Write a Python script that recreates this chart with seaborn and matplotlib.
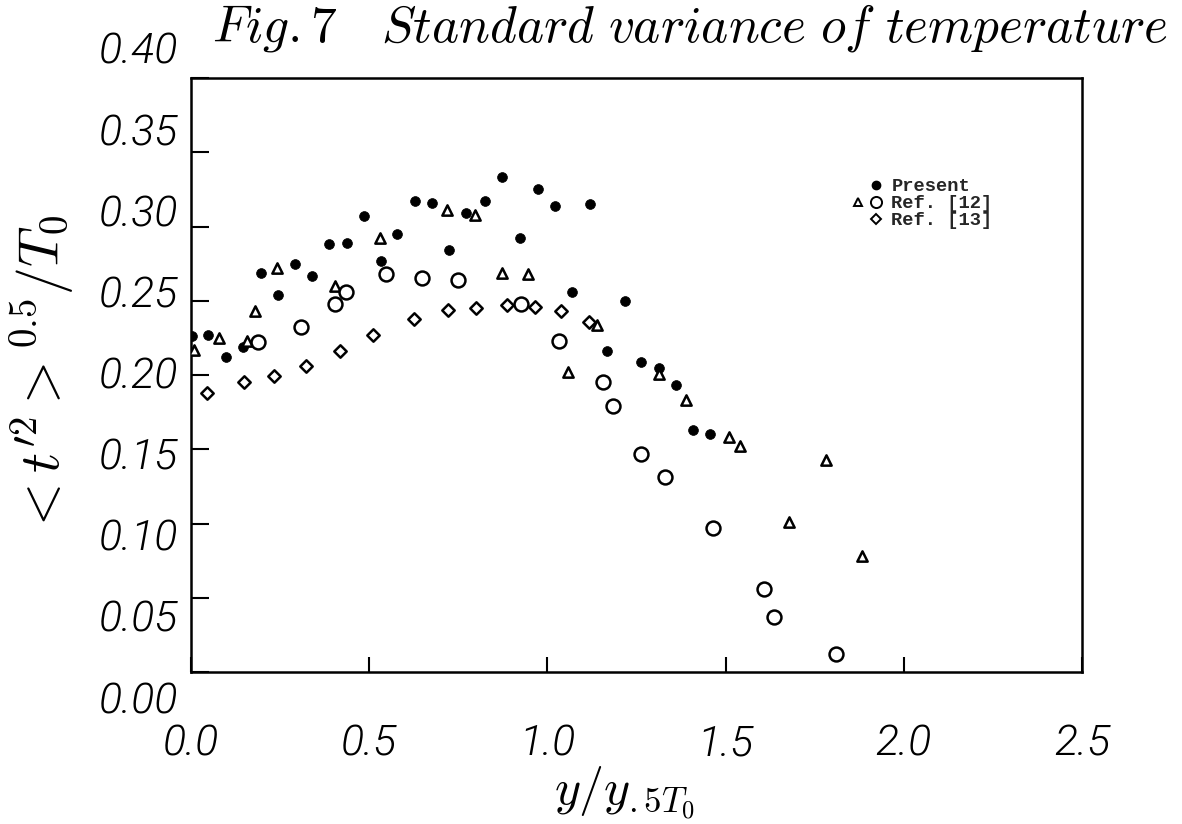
import numpy as np
import pandas as pd
import matplotlib
matplotlib.use("Agg")
import matplotlib.pyplot as plt
import seaborn as sns
from matplotlib.lines import Line2D
from matplotlib.legend_handler import HandlerTuple

# ---------------- data ----------------
present_x = [0.002, 0.047, 0.098, 0.146, 0.196, 0.244, 0.291, 0.339, 0.388, 0.439,
             0.485, 0.532, 0.579, 0.628, 0.676, 0.723, 0.772, 0.825, 0.874, 0.922,
             0.973, 1.021, 1.120, 1.070, 1.217, 1.166, 1.262, 1.312, 1.361, 1.408, 1.456]
present_y = [0.226, 0.227, 0.212, 0.219, 0.269, 0.254, 0.275, 0.267, 0.288, 0.289,
             0.307, 0.277, 0.295, 0.317, 0.316, 0.284, 0.309, 0.317, 0.333, 0.292,
             0.325, 0.314, 0.315, 0.256, 0.250, 0.216, 0.209, 0.205, 0.193, 0.163, 0.160]

ref12_tri_x = [0.008, 0.078, 0.157, 0.180, 0.240, 0.404, 0.531, 0.718, 0.797, 0.873,
               0.946, 1.057, 1.139, 1.313, 1.390, 1.510, 1.541, 1.783, 1.679, 1.883]
ref12_tri_y = [0.217, 0.225, 0.223, 0.243, 0.272, 0.260, 0.292, 0.311, 0.308, 0.269,
               0.268, 0.202, 0.234, 0.201, 0.183, 0.158, 0.152, 0.143, 0.101, 0.078]

ref12_circ_x = [0.187, 0.310, 0.405, 0.435, 0.547, 0.648, 0.749, 0.925, 1.033, 1.156,
                1.185, 1.263, 1.329, 1.466, 1.609, 1.636, 1.811]
ref12_circ_y = [0.222, 0.232, 0.248, 0.256, 0.268, 0.265, 0.264, 0.248, 0.223, 0.195,
                0.179, 0.147, 0.131, 0.097, 0.056, 0.037, 0.012]

ref13_x = [0.046, 0.150, 0.234, 0.323, 0.418, 0.510, 0.625, 0.720, 0.801, 0.888,
           0.964, 1.037, 1.117]
ref13_y = [0.188, 0.195, 0.199, 0.206, 0.216, 0.227, 0.238, 0.244, 0.245, 0.247,
           0.246, 0.243, 0.236]

x_ticks = [0.0, 0.5, 1.0, 1.5, 2.0, 2.5]
x_ticklabels = ["0.0", "0.5", "1.0", "1.5", "2.0", "2.5"]
y_ticks = [0.00, 0.05, 0.10, 0.15, 0.20, 0.25, 0.30, 0.35, 0.40]
y_ticklabels = ["0.00", "0.05", "0.10", "0.15", "0.20", "0.25", "0.30", "0.35", "0.40"]

legend_labels = ["Present", "Ref. [12]", "Ref. [13]"]
title_text = r"$Fig.7\ \ \ Standard\ variance\ of\ temperature$"
xlabel_text = r"$y/y_{.5T_0}$"
ylabel_text = r"${<}t^{\prime 2}{>}^{0.5}/T_0$"

# ---------------- style ----------------
sns.set_style("ticks")
plt.rcParams["font.family"] = ["Roboto", "DejaVu Sans"]
plt.rcParams["mathtext.fontset"] = "cm"

W, H = 1182, 824
fig = plt.figure(figsize=(W / 100, H / 100), dpi=100)
ax = fig.add_axes([191 / W, 1 - 672 / H, 891 / W, 594 / H])

sns.scatterplot(x=present_x, y=present_y, ax=ax, marker="o", s=50,
                color="black", edgecolor="black", linewidth=0.5, legend=False, zorder=3)
sns.scatterplot(x=ref12_tri_x, y=ref12_tri_y, ax=ax, marker="^", s=55,
                color="white", edgecolor="black", linewidth=1.8, legend=False, zorder=3)
sns.scatterplot(x=ref12_circ_x, y=ref12_circ_y, ax=ax, marker="o", s=100,
                color="white", edgecolor="black", linewidth=1.8, legend=False, zorder=3)
sns.scatterplot(x=ref13_x, y=ref13_y, ax=ax, marker="D", s=40,
                color="white", edgecolor="black", linewidth=1.8, legend=False, zorder=3)

ax.set_xlim(0, 2.5)
ax.set_ylim(0, 0.4)
for sp in ax.spines.values():
    sp.set_linewidth(1.8)
    sp.set_color("black")

tick_font = {"fontsize": 31, "fontstyle": "italic", "fontweight": 300, "color": "black"}
ax.set_xticks(x_ticks)
ax.set_xticklabels(x_ticklabels, **tick_font)
ax.set_yticks(y_ticks)
ax.set_yticklabels([""] * len(y_ticks))
ax.tick_params(axis="x", direction="in", length=11, width=1.5, pad=37, colors="black")
ax.tick_params(axis="y", direction="in", length=13, width=1.5, colors="black")

# y tick labels (placed on their own scale, as printed in the original figure)
lab_ax = fig.add_axes([191 / W, 1 - 697 / H, 0.001, 649 / H])
lab_ax.set_ylim(0, 0.4)
lab_ax.set_yticks(y_ticks)
lab_ax.set_yticklabels(y_ticklabels, **tick_font)
lab_ax.set_xticks([])
lab_ax.tick_params(axis="y", length=0, pad=9, colors="black")
for sp in lab_ax.spines.values():
    sp.set_visible(False)
lab_ax.patch.set_alpha(0)

ax.set_xlabel(xlabel_text, fontsize=36, color="black")
ax.xaxis.set_label_coords((625 - 191) / 891, -0.155)
ax.set_ylabel(ylabel_text, fontsize=40, color="black")
ax.yaxis.set_label_coords(-0.128, 0.5)

fig.text(1168 / W, 1 - 2 / H, title_text, fontsize=37, ha="right", va="top", color="black")

# legend
blank = Line2D([], [], linestyle="none", marker="")
h_present = Line2D([], [], linestyle="none", marker="o", markersize=6,
                   markerfacecolor="black", markeredgecolor="black")
h_tri = Line2D([], [], linestyle="none", marker="^", markersize=6,
               markerfacecolor="white", markeredgecolor="black", markeredgewidth=1.4)
h_circ = Line2D([], [], linestyle="none", marker="o", markersize=8,
                markerfacecolor="white", markeredgecolor="black", markeredgewidth=1.4)
h_dia = Line2D([], [], linestyle="none", marker="D", markersize=5,
               markerfacecolor="white", markeredgecolor="black", markeredgewidth=1.4)
leg = ax.legend([(blank, h_present), (h_tri, h_circ), (blank, h_dia)], legend_labels,
                handler_map={tuple: HandlerTuple(ndivide=None, pad=0.3)},
                loc="upper left", bbox_to_anchor=((852 - 191) / 891, (672 - 178) / 594),
                frameon=False, borderpad=0, borderaxespad=0, handlelength=1.6,
                handletextpad=0.5, labelspacing=0.0,
                prop={"family": "Liberation Mono", "weight": "bold", "size": 13.5})

fig.savefig("out.png", dpi=100)
